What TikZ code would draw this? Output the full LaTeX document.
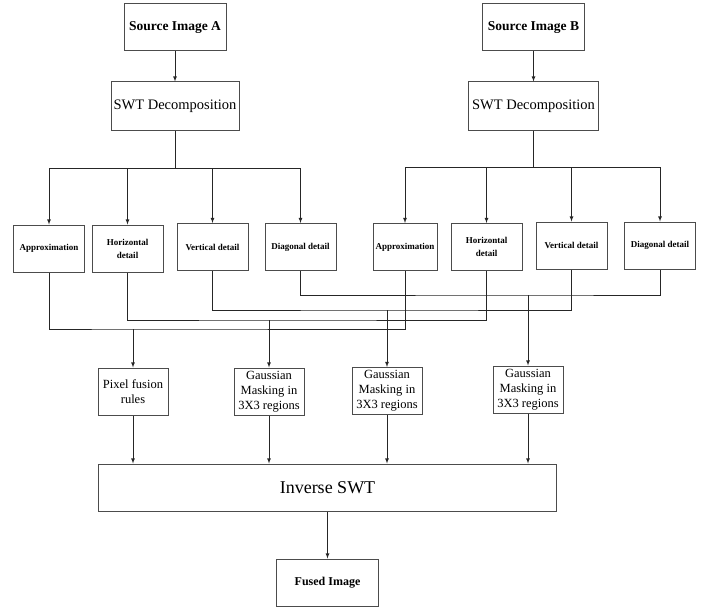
\documentclass[tikz,border=0pt]{standalone}
\usepackage{fontspec}
\setmainfont{Liberation Serif}
\usetikzlibrary{arrows}

\begin{document}
\begin{tikzpicture}[x=1pt,y=-1pt,>=latex]
\tikzstyle{every node}=[draw=black!70, line width=1pt, inner sep=1pt, align=center]
\tikzstyle{src}=[minimum width=102pt, minimum height=47pt, font=\fontsize{13.5}{16}\selectfont\bfseries]
\tikzstyle{dec}=[minimum width=128pt, minimum height=48pt, font=\fontsize{14.5}{17}\selectfont]
\tikzstyle{det}=[minimum width=71pt, minimum height=47pt, font=\fontsize{9}{13}\selectfont\bfseries]
\tikzstyle{fus}=[minimum width=70pt, minimum height=47pt, font=\fontsize{12.5}{15}\selectfont]
\tikzstyle{wire}=[black!85, line width=0.8pt]
\useasboundingbox (0,0) rectangle (707,610);
% sources and decomposition
\draw (175,27.5) node (srcA) [src] {Source Image A};
\draw (533.5,27.5) node (srcB) [src] {Source Image B};
\draw (175,106) node (swtA) [dec] {SWT Decomposition};
\draw (533.5,106) node (swtB) [dec, minimum width=130pt] {SWT Decomposition};
% sub-bands
\draw (49,248.5) node (apA) [det] {Approximation};
\draw (127.5,248.5) node (hoA) [det] {Horizontal\\detail};
\draw (212.5,247) node (veA) [det] {Vertical detail};
\draw (300.5,247) node (diA) [det] {Diagonal detail};
\draw (405,247) node (apB) [det, minimum width=64pt] {Approximation};
\draw (486.5,247) node (hoB) [det] {Horizontal\\detail};
\draw (571.5,245.5) node (veB) [det] {Vertical detail};
\draw (660,245.5) node (diB) [det] {Diagonal detail};
% fusion
\draw (133,391.5) node (pfr) [fus] {Pixel fusion\\rules};
\draw (269,391.5) node (gm1) [fus] {Gaussian\\Masking in\\3X3 regions};
\draw (387,391) node (gm2) [fus] {Gaussian\\Masking in\\3X3 regions};
\draw (528,389.5) node (gm3) [fus] {Gaussian\\Masking in\\3X3 regions};
\draw (327.5,487.5) node (inv) [minimum width=458pt, minimum height=47pt, font=\fontsize{18}{20}\selectfont] {Inverse SWT};
\draw (327.5,582.5) node (fus) [src, font=\fontsize{12}{14}\selectfont\bfseries] {Fused Image};
\coordinate (brA) at (175,168);
\coordinate (brB) at (533.5,167);
\coordinate (jA) at (133,329);
\coordinate (jB) at (269,320);
\coordinate (jC) at (387,310);
\coordinate (jD) at (528,295);
\draw[wire,->] (srcA) -- (swtA);
\draw[wire,->] (srcB) -- (swtB);
\draw[wire] (swtA) -- (brA);
\draw[wire] (swtB) -- (brB);
\draw[wire,->] (brA) -| (apA);
\draw[wire,->] (brA) -| (hoA);
\draw[wire,->] (brA) -| (veA);
\draw[wire,->] (brA) -| (diA);
\draw[wire,->] (brB) -| (apB);
\draw[wire,->] (brB) -| (hoB);
\draw[wire,->] (brB) -| (veB);
\draw[wire,->] (brB) -| (diB);
\draw[wire] (apA) |- (jA) -| (apB);
\draw[wire] (hoA) |- (jB) -| (hoB);
\draw[wire] (veA) |- (jC) -| (veB);
\draw[wire] (diA) |- (jD) -| (diB);
\draw[wire,->] (jA) -- (pfr);
\draw[wire,->] (jB) -- (gm1);
\draw[wire,->] (jC) -- (gm2);
\draw[wire,->] (jD) -- (gm3);
\draw[wire,->] (pfr) -- (pfr |- inv.north);
\draw[wire,->] (gm1) -- (gm1 |- inv.north);
\draw[wire,->] (gm2) -- (gm2 |- inv.north);
\draw[wire,->] (gm3) -- (gm3 |- inv.north);
\draw[wire,->] (inv) -- (fus);
\end{tikzpicture}
\end{document}
